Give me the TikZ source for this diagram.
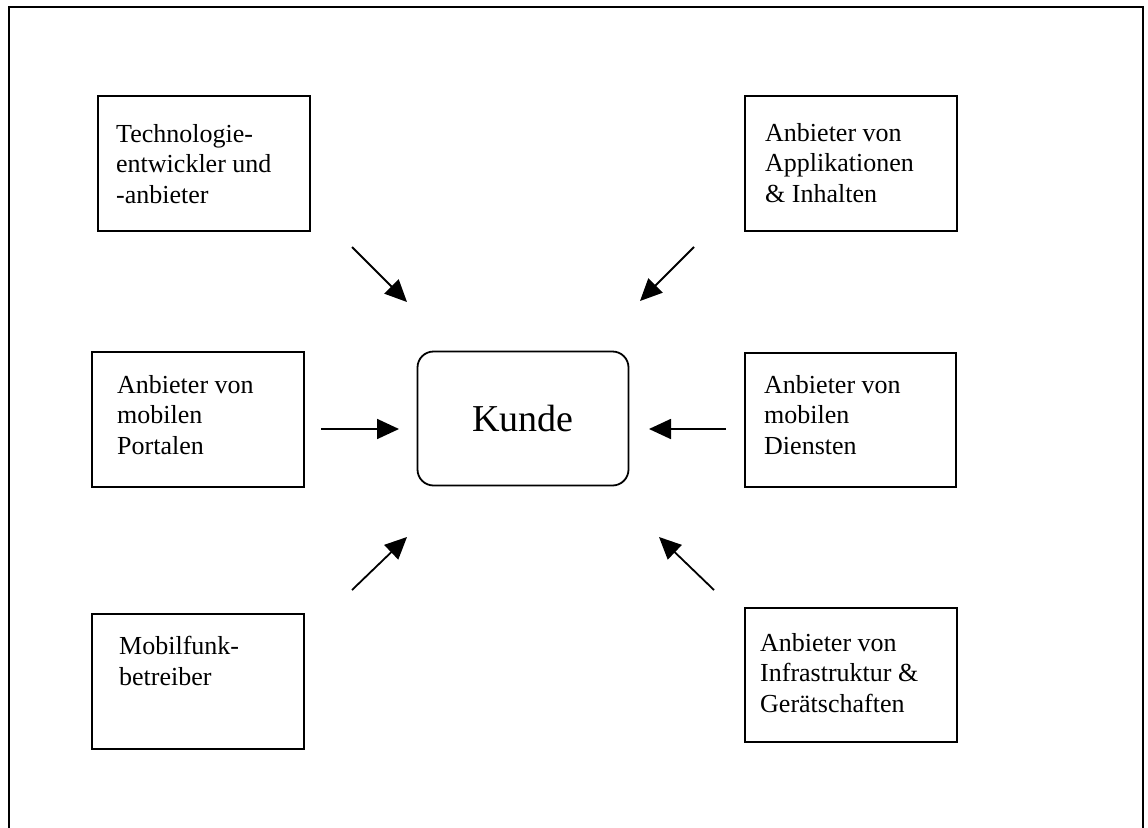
\documentclass[tikz,border=0pt]{standalone}
\usepackage{fontspec}
\setmainfont{Liberation Serif}
\usetikzlibrary{arrows.meta}
\begin{document}
\begin{tikzpicture}[x=1pt,y=-1pt,
  actor/.style={draw,line width=1.8pt,anchor=north west,inner sep=0pt},
  caption/.style={anchor=base west,align=left,inner sep=0pt,
    font=\fontsize{26}{30.5}\selectfont},
  flow/.style={line width=1.8pt,-{Triangle[length=22pt,width=20pt]}}]
\useasboundingbox (0,0) rectangle (1148,827);
% outer frame, open at the bottom
\draw[line width=2pt] (9,840) -- (9,7) -- (1143,7) -- (1143,840);

% central customer box
\node[draw,line width=1.8pt,rounded corners=16pt,minimum width=211pt,
  minimum height=134pt,inner sep=0pt,
  font=\fontsize{38}{42}\selectfont] (kunde) at (523,418.5) {Kunde};

% surrounding boxes; captions are placed by the baseline of their last line
\node[actor,minimum width=212pt,minimum height=135pt] (tech) at (97,95) {};
\node[caption] (techtxt) at (116,203) {Technologie-\\entwickler und\\-anbieter};

\node[actor,minimum width=212pt,minimum height=135pt] (appl) at (744,95) {};
\node[caption] (appltxt) at (765,202) {Anbieter von\\Applikationen\\\& Inhalten};

\node[actor,minimum width=212pt,minimum height=135pt] (port) at (91,351) {};
\node[caption] (porttxt) at (117,454) {Anbieter von\\mobilen\\Portalen};

\node[actor,minimum width=211pt,minimum height=134pt] (dien) at (744,352) {};
\node[caption] (dientxt) at (764,454) {Anbieter von\\mobilen\\Diensten};

\node[actor,minimum width=212pt,minimum height=135pt] (funk) at (91,613) {};
\node[caption] (funktxt) at (119,685) {Mobilfunk-\\betreiber};

\node[actor,minimum width=212pt,minimum height=134pt] (infra) at (744,607) {};
\node[caption] (infratxt) at (760,712) {Anbieter von\\Infrastruktur \&\\Gerätschaften};

% arrow end points
\coordinate (t1) at (352,247);  \coordinate (h1) at (407,302);
\coordinate (t2) at (694,247);  \coordinate (h2) at (640,301);
\coordinate (t3) at (321,429);  \coordinate (h3) at (399,429);
\coordinate (t4) at (726,429);  \coordinate (h4) at (649,429);
\coordinate (t5) at (352,590);  \coordinate (h5) at (407,537);
\coordinate (t6) at (714,590);  \coordinate (h6) at (659,537);

\draw[flow] (t1) -- (h1);
\draw[flow] (t2) -- (h2);
\draw[flow] (t3) -- (h3);
\draw[flow] (t4) -- (h4);
\draw[flow] (t5) -- (h5);
\draw[flow] (t6) -- (h6);
\end{tikzpicture}
\end{document}
